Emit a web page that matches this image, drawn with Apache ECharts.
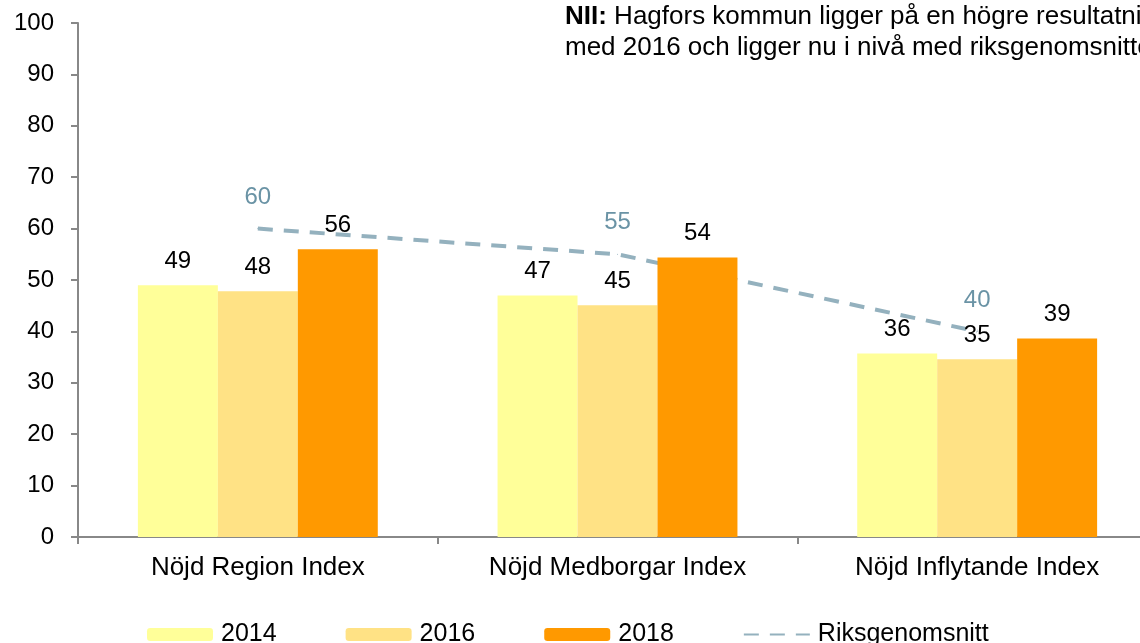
<!DOCTYPE html>
<html>
<head>
<meta charset="utf-8">
<script src="https://cdn.jsdelivr.net/npm/echarts@6/dist/echarts.min.js"></script>
<style>
  html, body { margin: 0; padding: 0; background: #fff; overflow: hidden; }
  #chart { width: 1140px; height: 643px; }
</style>
</head>
<body>
<div id="chart"></div>
<script>
var categories = ['Nöjd Region Index', 'Nöjd Medborgar Index', 'Nöjd Inflytande Index'];
var years = ['2014', '2016', '2018'];
var values2014 = [49, 47, 35.7];
var values2016 = [47.8, 45.1, 34.6];
var values2018 = [56, 54.4, 38.6];
var riksLabel = 'Riksgenomsnitt';
var riksValues = [60, 55, 40];
var yTicks = [0, 10, 20, 30, 40, 50, 60, 70, 80, 90, 100];

var font = "'Liberation Sans', Arial, sans-serif";
var barColors = ['#FFFF99', '#FFE285', '#FF9900'];

function barSeries(name, data, color) {
    return {
        name: name,
        type: 'bar',
        barGap: 0,
        barCategoryGap: '33.3%',
        itemStyle: { color: color },
        label: {
            show: true,
            position: 'top',
            distance: 12,
            color: '#000',
            fontSize: 24,
            fontFamily: font,
            formatter: function (p) { return Math.round(p.value); }
        },
        data: data
    };
}

var chart = echarts.init(document.getElementById('chart'));
chart.setOption({
    animation: false,
    textStyle: { fontFamily: font },
    // the plot runs past the right edge of the picture, so don't squeeze it in
    grid: { left: 78, top: 23, width: 1079, height: 514, outerBoundsMode: 'none' },
    legend: {
        left: 142,
        top: 617,
        itemWidth: 66,
        itemHeight: 13,
        itemGap: 69,
        textStyle: { fontSize: 25, color: '#000', fontFamily: font, padding: [0, 0, 0, 3] },
        data: [years[0], years[1], years[2], { name: riksLabel, itemStyle: { opacity: 0 } }]
    },
    xAxis: {
        type: 'category',
        data: categories,
        axisLine: { lineStyle: { color: '#888', width: 2 } },
        axisTick: { show: true, length: 7, lineStyle: { color: '#888', width: 2 } },
        axisLabel: { fontSize: 26, color: '#000', margin: 18, fontFamily: font }
    },
    yAxis: {
        type: 'value',
        min: yTicks[0],
        max: yTicks[yTicks.length - 1],
        interval: 10,
        splitLine: { show: false },
        axisLine: { show: true, lineStyle: { color: '#888', width: 2 } },
        axisTick: { show: true, length: 7, lineStyle: { color: '#888', width: 2 } },
        axisLabel: { fontSize: 24, color: '#000', margin: 24, fontFamily: font }
    },
    graphic: [{
        type: 'text',
        left: 565,
        top: 1,
        style: {
            text: '{b|NII:} Hagfors kommun ligger på en högre resultatnivå jämfört\nmed 2016 och ligger nu i nivå med riksgenomsnittet.',
            fontSize: 26,
            lineHeight: 31,
            fontFamily: font,
            fill: '#000',
            rich: {
                b: { fontWeight: 'bold', fontSize: 26, fontFamily: font, fill: '#000' }
            }
        }
    }],
    series: [
        barSeries(years[0], values2014, barColors[0]),
        barSeries(years[1], values2016, barColors[1]),
        barSeries(years[2], values2018, barColors[2]),
        {
            name: riksLabel,
            type: 'line',
            symbol: 'circle',
            symbolSize: 1,
            itemStyle: { color: '#94B1BE' },
            lineStyle: { color: '#94B1BE', width: 4, type: [15, 11] },
            label: {
                show: true,
                position: 'top',
                distance: 19,
                color: '#6A93A5',
                fontSize: 24,
                fontFamily: font
            },
            z: 1,
            data: riksValues
        }
    ]
});
</script>
</body>
</html>
